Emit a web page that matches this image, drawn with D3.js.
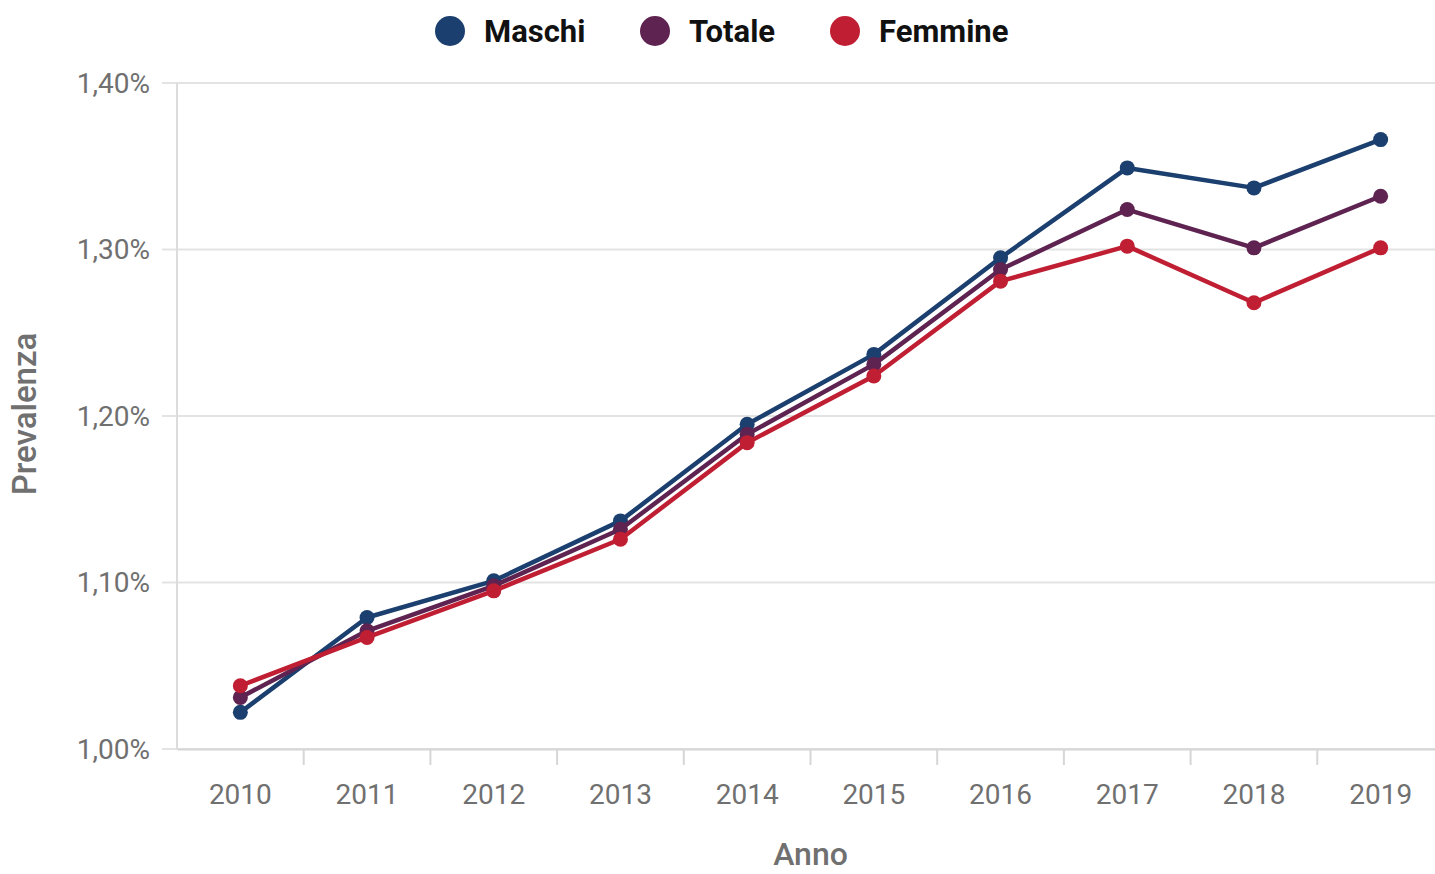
<!DOCTYPE html>
<html>
<head>
<meta charset="utf-8">
<script src="https://cdn.jsdelivr.net/npm/d3@7"></script>
<style>
  body { margin: 0; background: #fff; }
  text { font-family: Roboto, "Noto Sans", sans-serif; }
</style>
</head>
<body>
<div id="chart"></div>
<script>
var years = ["2010", "2011", "2012", "2013", "2014", "2015", "2016", "2017", "2018", "2019"];
var maschi = [1.022, 1.079, 1.101, 1.137, 1.195, 1.237, 1.295, 1.349, 1.337, 1.366];
var totale = [1.031, 1.071, 1.098, 1.132, 1.189, 1.231, 1.288, 1.324, 1.301, 1.332];
var femmine = [1.038, 1.067, 1.095, 1.126, 1.184, 1.224, 1.281, 1.302, 1.268, 1.301];
var yTicks = [1.00, 1.10, 1.20, 1.30, 1.40];

var series = [
  { name: "Maschi", values: maschi, color: "#1b3f6e" },
  { name: "Totale", values: totale, color: "#5e2350" },
  { name: "Femmine", values: femmine, color: "#c01f33" }
];

var svgWidth = 1435;
var svgHeight = 874;
var margin = { top: 83, right: -9, bottom: 125, left: 177 };
var width = svgWidth - margin.left - margin.right;
var height = svgHeight - margin.top - margin.bottom;

var svg = d3.select("#chart")
  .append("svg")
  .attr("width", svgWidth)
  .attr("height", svgHeight);

var chartGroup = svg.append("g")
  .attr("transform", `translate(${margin.left}, ${margin.top})`);

var xScale = d3.scaleBand()
  .domain(years)
  .range([0, width]);

var yScale = d3.scaleLinear()
  .domain([1.00, 1.40])
  .range([height, 0]);

// grid lines
chartGroup.selectAll(".grid")
  .data(yTicks)
  .enter()
  .append("line")
  .attr("x1", -15)
  .attr("x2", width)
  .attr("y1", d => yScale(d))
  .attr("y2", d => yScale(d))
  .attr("stroke", "#e3e3e3")
  .attr("stroke-width", 2);

// y axis line
chartGroup.append("line")
  .attr("x1", 0).attr("x2", 0)
  .attr("y1", 0).attr("y2", height)
  .attr("stroke", "#dcdcdc")
  .attr("stroke-width", 2);

// y labels
chartGroup.selectAll(".ylab")
  .data(yTicks)
  .enter()
  .append("text")
  .attr("x", -27)
  .attr("y", d => yScale(d))
  .attr("dy", "0.35em")
  .attr("text-anchor", "end")
  .attr("fill", "#707070")
  .style("font-size", "28px")
  .text(d => d3.format(".2f")(d).replace(".", ",") + "%");

// x axis
var bottomAxis = d3.axisBottom(xScale).tickSize(0).tickPadding(35);
var xAxis = chartGroup.append("g")
  .attr("transform", `translate(0, ${height})`)
  .call(bottomAxis);
xAxis.select(".domain").attr("stroke", "#d6d6d6").attr("stroke-width", 2);
xAxis.selectAll("text")
  .attr("fill", "#707070")
  .style("font-size", "28px");

// tick marks between categories
chartGroup.selectAll(".xtick")
  .data(years.slice(1))
  .enter()
  .append("line")
  .attr("x1", d => xScale(d))
  .attr("x2", d => xScale(d))
  .attr("y1", height)
  .attr("y2", height + 16)
  .attr("stroke", "#d6d6d6")
  .attr("stroke-width", 2);

// axis titles
chartGroup.append("text")
  .attr("x", xScale("2015"))
  .attr("y", height + 116)
  .attr("text-anchor", "middle")
  .attr("fill", "#707070")
  .style("font-size", "32px")
  .style("font-weight", "500")
  .text("Anno");

chartGroup.append("text")
  .attr("transform", "rotate(-90)")
  .attr("x", -(yScale(1.20)) + 2)
  .attr("y", -141)
  .attr("text-anchor", "middle")
  .attr("fill", "#707070")
  .style("font-size", "33px")
  .style("font-weight", "500")
  .text("Prevalenza");

// lines and points
var line = d3.line()
  .x((d, i) => xScale(years[i]) + xScale.bandwidth() / 2)
  .y(d => yScale(d));

series.forEach(function(s) {
  chartGroup.append("path")
    .datum(s.values)
    .attr("fill", "none")
    .attr("stroke", s.color)
    .attr("stroke-width", 4.5)
    .attr("stroke-linejoin", "round")
    .attr("d", line);

  chartGroup.selectAll(".pt-" + s.name)
    .data(s.values)
    .enter()
    .append("circle")
    .attr("cx", (d, i) => xScale(years[i]) + xScale.bandwidth() / 2)
    .attr("cy", d => yScale(d))
    .attr("r", 7.5)
    .attr("fill", s.color);
});

// legend
var legendX = [450, 655, 845];
var legend = svg.append("g");
series.forEach(function(s, i) {
  legend.append("circle")
    .attr("cx", legendX[i])
    .attr("cy", 31)
    .attr("r", 15)
    .attr("fill", s.color);
  legend.append("text")
    .attr("x", legendX[i] + 34)
    .attr("y", 31)
    .attr("dy", "0.35em")
    .attr("fill", "#111")
    .style("font-size", "31px")
    .style("font-weight", "bold")
    .text(s.name);
});
</script>
</body>
</html>
